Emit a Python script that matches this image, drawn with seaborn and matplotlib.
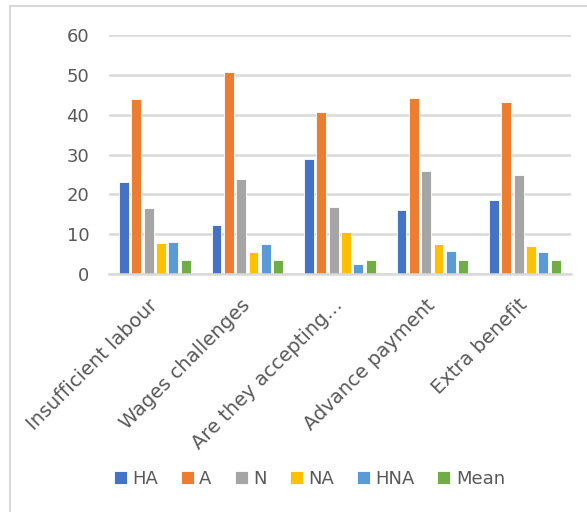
import matplotlib
matplotlib.use("Agg")
import matplotlib.pyplot as plt
import matplotlib.patches as mpatches
import matplotlib.transforms as mtransforms
import pandas as pd
import seaborn as sns

categories = ["Insufficient labour", "Wages challenges", "Are they accepting…",
              "Advance payment", "Extra benefit"]
series = ["HA", "A", "N", "NA", "HNA", "Mean"]
ha_vals = [23.2, 12.2, 29.0, 16.1, 18.7]
a_vals = [43.9, 50.7, 40.7, 44.2, 43.2]
n_vals = [16.5, 23.9, 16.8, 25.9, 24.9]
na_vals = [7.7, 5.4, 10.6, 7.4, 7.0]
hna_vals = [8.0, 7.4, 2.6, 5.8, 5.4]
mean_vals = [3.5, 3.5, 3.5, 3.5, 3.5]
colors = ["#4472C4", "#ED7D31", "#A5A5A5", "#FFC000", "#5B9BD5", "#70AD47"]
y_ticks = [0, 10, 20, 30, 40, 50, 60]

values = [ha_vals, a_vals, n_vals, na_vals, hna_vals, mean_vals]
rows = []
for s, vals in zip(series, values):
    for c, v in zip(categories, vals):
        rows.append({"category": c, "series": s, "value": v})
df = pd.DataFrame(rows)

sns.set_theme(style="white")
plt.rcParams["font.family"] = ["DejaVu Sans"]
text_color = "#595959"
grid_color = "#D9D9D9"

fig = plt.figure(figsize=(5.87, 5.12), dpi=100)
ax = fig.add_axes([0.185, 0.465, 0.788, 0.466])

sns.barplot(data=df, x="category", y="value", hue="series", order=categories,
            hue_order=series, palette=colors, width=0.8, gap=0.2,
            edgecolor="white", linewidth=0.6, saturation=1, ax=ax, legend=True)

ax.set_ylim(0, 60)
ax.set_yticks(y_ticks)
ax.set_xlim(-0.5, len(categories) - 0.5)
ax.yaxis.grid(True, color=grid_color, linewidth=1.8)
ax.set_axisbelow(True)
for side in ["left", "right", "top"]:
    ax.spines[side].set_visible(False)
ax.spines["bottom"].set_color(grid_color)
ax.spines["bottom"].set_linewidth(1.8)
ax.set_xlabel("")
ax.set_ylabel("")
ax.tick_params(axis="y", length=0, pad=14, labelsize=13, labelcolor=text_color)
ax.tick_params(axis="x", length=0, pad=14, labelsize=14, labelcolor=text_color)
shift = mtransforms.ScaledTranslation(-0.07, -0.02, fig.dpi_scale_trans)
for lbl in ax.get_xticklabels():
    lbl.set_rotation(45)
    lbl.set_ha("right")
    lbl.set_va("top")
    lbl.set_rotation_mode("anchor")
    lbl.set_transform(lbl.get_transform() + shift)

handles, labels = ax.get_legend_handles_labels()
ax.legend_.remove()
fig.legend(handles, labels, loc="center", bbox_to_anchor=(0.527, 0.064),
           ncol=6, frameon=False, fontsize=13, labelcolor=text_color,
           handlelength=0.72, handleheight=0.72, handletextpad=0.3,
           columnspacing=1.27)

# Chart-area frame
fig.patches.append(mpatches.Rectangle((10 / 587, -0.1), 1.0, 1.1 - 6 / 512,
                                      transform=fig.transFigure, fill=False,
                                      edgecolor=grid_color, linewidth=1.5))

fig.savefig("out.png", dpi=100)
